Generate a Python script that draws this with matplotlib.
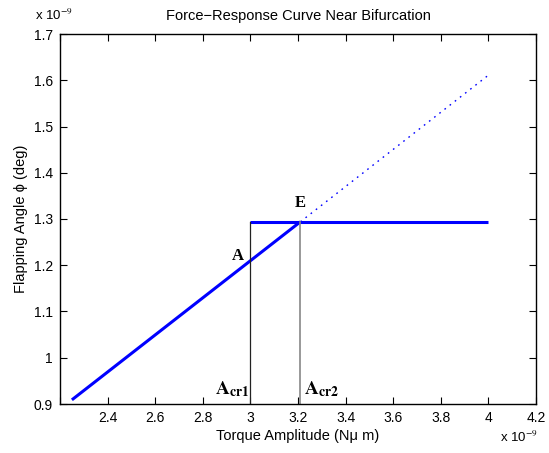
import matplotlib
matplotlib.use('Agg')
import matplotlib.pyplot as plt
import numpy as np

plt.rcParams['font.family'] = ['Liberation Sans', 'DejaVu Sans']
plt.rcParams['mathtext.fontset'] = 'stix'

# values in units of 1e-9
stable_x = [2.25, 3.21]
stable_y = [0.909, 1.294]
unstable_x = [3.21, 4.0]
unstable_y = [1.294, 1.611]
jump_x = [3.0, 4.0]
jump_y = [1.294, 1.294]
acr1 = 3.0
acr2 = 3.21
xticks = [2.2, 2.4, 2.6, 2.8, 3.0, 3.2, 3.4, 3.6, 3.8, 4.0, 4.2]
xticklabels = ['', '2.4', '2.6', '2.8', '3', '3.2', '3.4', '3.6', '3.8', '4', '4.2']
yticks = [0.9, 1.0, 1.1, 1.2, 1.3, 1.4, 1.5, 1.6, 1.7]
yticklabels = ['0.9', '1', '1.1', '1.2', '1.3', '1.4', '1.5', '1.6', '1.7']

fig = plt.figure(figsize=(5.49, 4.53), dpi=100)
ax = fig.add_axes([60/549, 1-404/453, 476/549, 370/453])

ax.plot(stable_x, stable_y, color='#0000ff', lw=2.2, solid_capstyle='butt')
ax.plot(unstable_x, unstable_y, color='#0000ff', lw=1.0, linestyle=(0, (1.2, 3.5)))
ax.plot(jump_x, jump_y, color='#0000ff', lw=2.2, solid_capstyle='butt')
ax.plot([acr1, acr1], [0.9, jump_y[0]], color='#222222', lw=0.9)
ax.plot([acr2, acr2], [0.9, jump_y[0]], color='#888888', lw=1.2)

# point labels (serif bold stands in for the Courier look)
ax.text(2.948, 1.22, 'A', family='Liberation Serif', weight='bold', fontsize=12,
        ha='center', va='center')
ax.text(3.211, 1.335, 'E', family='Liberation Serif', weight='bold', fontsize=12,
        ha='center', va='center')
ax.text(2.995, 0.922, r'$\mathbf{A}_{\mathbf{cr1}}$', fontsize=14, ha='right', va='baseline')
ax.text(3.225, 0.922, r'$\mathbf{A}_{\mathbf{cr2}}$', fontsize=14, ha='left', va='baseline')

ax.set_xlim(2.2, 4.2)
ax.set_ylim(0.9, 1.7)
ax.set_xticks(xticks)
ax.set_xticklabels(xticklabels)
ax.set_yticks(yticks)
ax.set_yticklabels(yticklabels)
ax.tick_params(direction='in', top=True, right=True, length=5, width=0.8,
               labelsize=10, pad=5)
for s in ax.spines.values():
    s.set_linewidth(1.0)

ax.set_title('Force\u2212Response Curve Near Bifurcation', fontsize=10.5, pad=10)
ax.set_xlabel('Torque Amplitude (N\u03bc m)', fontsize=10.5, labelpad=3)
ax.set_ylabel('Flapping Angle \u03d5 (deg)', fontsize=10.5, labelpad=4)

fig.text(35/549, 1-20/453, r'x 10$^{-9}$', fontsize=9.5, ha='left', va='baseline')
fig.text(500/549, 1-442/453, r'x 10$^{-9}$', fontsize=9.5, ha='left', va='baseline')

fig.savefig('out.png', dpi=100)
